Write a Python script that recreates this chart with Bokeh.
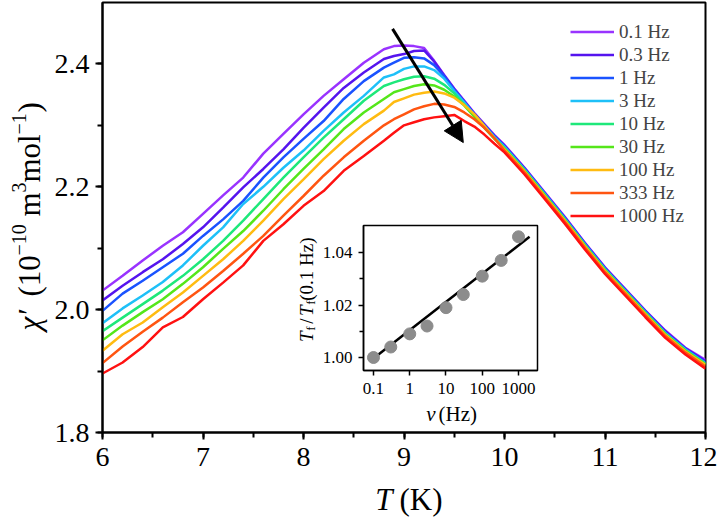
import numpy as np
from bokeh.plotting import figure
from bokeh.models import (Range1d, Label, Legend, LegendItem, Arrow, NormalHead,
                          SingleIntervalTicker, FixedTicker, NumeralTickFormatter)
from bokeh.embed import file_html
from bokeh.resources import INLINE

# ---------------- data ----------------
T = [6.0, 6.2, 6.4, 6.6, 6.8, 7.0, 7.2, 7.4, 7.6, 7.8, 8.0, 8.2, 8.4, 8.6, 8.8,
     8.9, 9.0, 9.1, 9.2, 9.3, 9.4, 9.5, 9.6, 9.7, 9.8, 9.9, 10.0,
     10.2, 10.4, 10.6, 10.8, 11.0, 11.2, 11.4, 11.6, 11.8, 12.0]

chi_0p1 = [2.031, 2.055, 2.080, 2.104, 2.126, 2.156, 2.186, 2.215, 2.254, 2.286, 2.318, 2.348, 2.375, 2.402, 2.424,
           2.429, 2.430, 2.429, 2.426, 2.405, 2.382, 2.360, 2.340, 2.320, 2.302, 2.284, 2.268,
           2.231, 2.191, 2.151, 2.109, 2.069, 2.034, 1.999, 1.966, 1.938, 1.918]
chi_0p3 = [2.015, 2.039, 2.061, 2.082, 2.107, 2.134, 2.166, 2.199, 2.229, 2.261, 2.296, 2.329, 2.361, 2.386, 2.408,
           2.413, 2.416, 2.421, 2.422, 2.404, 2.381, 2.359, 2.339, 2.319, 2.301, 2.283, 2.267,
           2.230, 2.190, 2.150, 2.108, 2.068, 2.033, 1.998, 1.965, 1.937, 1.916]
chi_1 = [1.998, 2.026, 2.047, 2.069, 2.091, 2.120, 2.147, 2.177, 2.215, 2.248, 2.278, 2.307, 2.343, 2.372, 2.394,
         2.402, 2.410, 2.411, 2.409, 2.398, 2.380, 2.358, 2.338, 2.318, 2.300, 2.282, 2.266,
         2.229, 2.189, 2.149, 2.107, 2.067, 2.032, 1.997, 1.963, 1.936, 1.914]
chi_3 = [1.978, 2.002, 2.023, 2.045, 2.072, 2.104, 2.134, 2.172, 2.200, 2.231, 2.259, 2.291, 2.321, 2.348, 2.378,
         2.383, 2.392, 2.396, 2.396, 2.390, 2.376, 2.356, 2.337, 2.317, 2.299, 2.281, 2.265,
         2.228, 2.188, 2.148, 2.106, 2.066, 2.031, 1.996, 1.962, 1.935, 1.913]
chi_10 = [1.965, 1.987, 2.009, 2.031, 2.055, 2.082, 2.112, 2.145, 2.180, 2.215, 2.248, 2.280, 2.310, 2.340, 2.364,
          2.370, 2.375, 2.379, 2.380, 2.376, 2.366, 2.352, 2.334, 2.315, 2.297, 2.279, 2.263,
          2.227, 2.187, 2.147, 2.105, 2.065, 2.030, 1.995, 1.961, 1.934, 1.912]
chi_30 = [1.950, 1.974, 1.996, 2.017, 2.042, 2.069, 2.099, 2.128, 2.161, 2.196, 2.229, 2.261, 2.294, 2.321, 2.343,
          2.354, 2.359, 2.364, 2.367, 2.365, 2.358, 2.347, 2.332, 2.314, 2.296, 2.278, 2.262,
          2.226, 2.186, 2.146, 2.104, 2.064, 2.029, 1.994, 1.960, 1.933, 1.911]
chi_100 = [1.933, 1.960, 1.979, 2.004, 2.028, 2.055, 2.082, 2.112, 2.145, 2.180, 2.212, 2.245, 2.275, 2.302, 2.324,
           2.338, 2.344, 2.350, 2.353, 2.355, 2.352, 2.345, 2.333, 2.318, 2.299, 2.279, 2.261,
           2.225, 2.185, 2.145, 2.103, 2.063, 2.028, 1.993, 1.959, 1.932, 1.910]
chi_333 = [1.913, 1.940, 1.964, 1.987, 2.012, 2.036, 2.063, 2.091, 2.120, 2.153, 2.185, 2.218, 2.248, 2.275, 2.300,
           2.310, 2.318, 2.326, 2.331, 2.335, 2.334, 2.330, 2.321, 2.310, 2.296, 2.279, 2.259,
           2.223, 2.183, 2.143, 2.101, 2.061, 2.026, 1.991, 1.957, 1.930, 1.907]
chi_1000 = [1.896, 1.914, 1.939, 1.971, 1.988, 2.017, 2.044, 2.072, 2.112, 2.139, 2.169, 2.193, 2.226, 2.250, 2.275,
            2.288, 2.300, 2.305, 2.310, 2.313, 2.315, 2.317, 2.307, 2.298, 2.285, 2.270, 2.256,
            2.220, 2.180, 2.140, 2.098, 2.058, 2.023, 1.988, 1.954, 1.927, 1.904]

series = [chi_0p1, chi_0p3, chi_1, chi_3, chi_10, chi_30, chi_100, chi_333, chi_1000]
freq_labels = ["0.1 Hz", "0.3 Hz", "1 Hz", "3 Hz", "10 Hz", "30 Hz", "100 Hz", "333 Hz", "1000 Hz"]
colors = ["#9933FF", "#5514EE", "#1A53FF", "#1EC0F8", "#1EE87A", "#55E61A", "#FFBB11", "#FF5511", "#FF1111"]

# inset: freezing temperature ratio vs frequency
nu = [0.1, 0.3, 1, 3, 10, 30, 100, 333, 1000]
tf_ratio = [1.000, 1.004, 1.009, 1.012, 1.019, 1.024, 1.031, 1.037, 1.046]
fit_nu = [0.079, 2020]
fit_ratio = [0.9986, 1.046]

arrow_start = (8.886, 2.457)
arrow_end = (9.59, 2.272)

FONT = "Liberation Serif"
W, H = 717, 518
OVERLAY = {"position": "absolute", "left": "0px", "top": "0px"}

# ---------------- main figure ----------------
p = figure(width=W, height=H, x_range=Range1d(6, 12), y_range=Range1d(1.8, 2.5),
           output_backend="svg", toolbar_location=None,
           min_border_left=102, min_border_right=12, min_border_top=2, min_border_bottom=86)
p.grid.visible = False
p.outline_line_color = "black"
p.outline_line_width = 2
p.background_fill_color = "white"
p.border_fill_color = "white"

p.xaxis.ticker = SingleIntervalTicker(interval=1, num_minor_ticks=2)
p.yaxis.ticker = SingleIntervalTicker(interval=0.2, num_minor_ticks=2)
p.yaxis.formatter = NumeralTickFormatter(format="0.0")
for ax in (p.xaxis[0], p.yaxis[0]):
    ax.axis_line_width = 2
    ax.major_tick_line_width = 2
    ax.minor_tick_line_width = 2
    ax.major_tick_out = 7
    ax.major_tick_in = 0
    ax.minor_tick_out = 5
    ax.minor_tick_in = 0
    ax.major_label_text_font = FONT
    ax.major_label_text_font_size = "28px"
    ax.major_label_text_color = "black"
p.xaxis.major_label_standoff = 8
p.yaxis.major_label_standoff = 6

items = []
for ys, lab, col in zip(series, freq_labels, colors):
    r = p.line(T, ys, line_color=col, line_width=2.5)
    items.append(LegendItem(label=lab, renderers=[r]))

legend = Legend(items=items, location=(468, 205), padding=0, margin=0, spacing=0,
                label_height=23, glyph_height=23, glyph_width=44, label_standoff=5,
                label_text_font=FONT, label_text_font_size="19px",
                border_line_alpha=0, background_fill_alpha=0)
p.add_layout(legend)

p.add_layout(Arrow(end=NormalHead(size=20, fill_color="black", line_color="black"),
                   x_start=arrow_start[0], y_start=arrow_start[1],
                   x_end=arrow_end[0], y_end=arrow_end[1],
                   line_width=3, line_color="black"))

# ---------------- inset (full-size overlay, frame placed by borders) ----------------
ins = figure(width=W, height=H, x_axis_type="log",
             x_range=Range1d(0.053, 3342), y_range=Range1d(0.99505, 1.0503),
             output_backend="svg", toolbar_location=None,
             min_border_left=363, min_border_right=180, min_border_top=225, min_border_bottom=148)
ins.grid.visible = False
ins.outline_line_color = "black"
ins.outline_line_width = 1.5
ins.background_fill_color = "white"
ins.border_fill_alpha = 0
ins.xaxis.ticker = FixedTicker(ticks=[0.1, 1, 10, 100, 1000], minor_ticks=[])
ins.xaxis.formatter = NumeralTickFormatter(format="0.[0]")
ins.yaxis.ticker = FixedTicker(ticks=[1.00, 1.02, 1.04], minor_ticks=[1.01, 1.03])
ins.yaxis.formatter = NumeralTickFormatter(format="0.00")
for ax in (ins.xaxis[0], ins.yaxis[0]):
    ax.axis_line_width = 1.5
    ax.major_tick_line_width = 1.5
    ax.minor_tick_line_width = 1.5
    ax.major_tick_out = 5
    ax.major_tick_in = 0
    ax.minor_tick_out = 4
    ax.minor_tick_in = 0
    ax.major_label_text_font = FONT
    ax.major_label_text_font_size = "17px"
    ax.major_label_text_color = "black"
ins.xaxis.major_label_standoff = 7
ins.yaxis.major_label_standoff = 6

ins.line(fit_nu, fit_ratio, line_color="black", line_width=2.5)
ins.scatter(nu, tf_ratio, size=12, fill_color="#8C8C8C", line_color="#8C8C8C")
ins.styles = OVERLAY

# ---------------- text overlay (page-pixel coordinates) ----------------
ov = figure(width=W, height=H, x_range=Range1d(0, W), y_range=Range1d(H, 0),
            x_axis_location=None, y_axis_location=None, output_backend="svg", toolbar_location=None,
            min_border_left=0, min_border_right=0, min_border_top=0, min_border_bottom=0)
ov.grid.visible = False
ov.outline_line_color = None
ov.background_fill_alpha = 0
ov.border_fill_alpha = 0
ov.styles = OVERLAY

def put(x, y, txt, size, style="normal", align="left", angle=0.0):
    ov.add_layout(Label(x=x, y=y, text=txt, angle=angle, text_align=align, text_baseline="middle",
                        text_font=FONT, text_font_style=style, text_font_size=size, text_color="black"))

# main x title
put(392, 499, "T", "31px", "italic", "right")
put(399, 499, "(K)", "31px")
# main y title (rotated, pieces from bottom to top)
R = np.pi / 2
put(29, 330, "χ′", "31px", "italic", "left", R)
put(29, 296, "(10", "31px", "normal", "left", R)
put(18, 255, "−10", "20px", "normal", "left", R)
put(29, 216, "m", "31px", "normal", "left", R)
put(18, 192, "3", "20px", "normal", "left", R)
put(29, 182, "mol", "31px", "normal", "left", R)
put(18, 134, "−1", "20px", "normal", "left", R)
put(29, 112, ")", "31px", "normal", "left", R)
# inset x title
put(435, 413, "ν", "21px", "italic", "right")
put(438, 413, "(Hz)", "21px")
# inset y title (rotated, pieces from top going down, right-aligned at their top)
put(306, 237, "(0.1 Hz)", "19px", "normal", "right", R)
put(310, 300, "f", "13px", "normal", "right", R)
put(306, 305, "T", "19px", "italic", "right", R)
put(306, 318, "/", "19px", "normal", "right", R)
put(310, 326, "f", "13px", "normal", "right", R)
put(306, 331, "T", "19px", "italic", "right", R)

open("out.html", "w").write(file_html([p, ins, ov], INLINE))
